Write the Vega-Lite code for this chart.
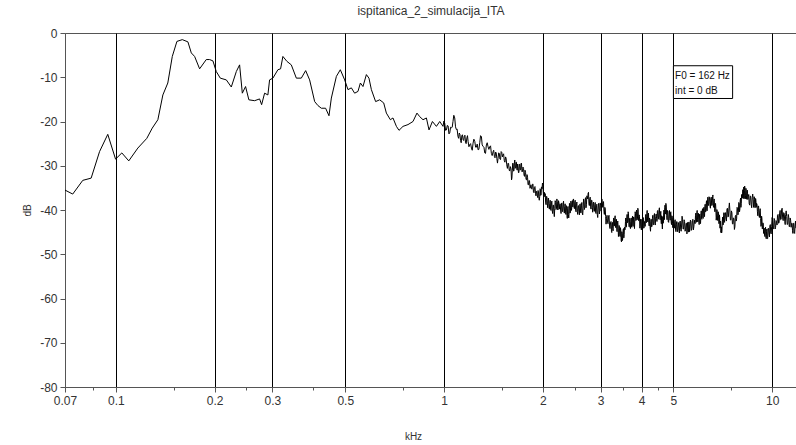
{
  "$schema": "https://vega.github.io/schema/vega-lite/v6.json",
  "width": 732,
  "height": 354,
  "autosize": {"type": "none"},
  "padding": {"left": 65, "top": 33, "right": 0, "bottom": 58},
  "background": "white",
  "config": {"view": {"stroke": "#555", "strokeWidth": 1}, "font": "Liberation Sans"},
  "title": {"text": "ispitanica_2_simulacija_ITA", "fontSize": 12, "fontWeight": "normal", "color": "#333", "anchor": "middle", "offset": 9, "font": "Liberation Sans"},
  "layer": [
    {
      "data": {"values": [
        {"khz":0.0700,"db":-35.5},{"khz":0.0739,"db":-36.4},{"khz":0.0793,"db":-33.3},{"khz":0.0841,"db":-32.8},{"khz":0.0892,"db":-26.8},{"khz":0.0945,"db":-22.9},{"khz":0.0998,"db":-28.5},{"khz":0.1043,"db":-27.1},{"khz":0.1095,"db":-28.9},{"khz":0.1167,"db":-26.0},{"khz":0.1243,"db":-23.8},{"khz":0.1291,"db":-21.5},{"khz":0.1343,"db":-19.6},{"khz":0.1391,"db":-14.0},{"khz":0.1440,"db":-11.3},{"khz":0.1486,"db":-5.3},{"khz":0.1535,"db":-1.9},{"khz":0.1594,"db":-1.5},{"khz":0.1658,"db":-2.0},{"khz":0.1698,"db":-4.5},{"khz":0.1738,"db":-5.3},{"khz":0.1800,"db":-8.1},{"khz":0.1886,"db":-6.0},{"khz":0.1931,"db":-6.0},{"khz":0.1976,"db":-6.3},{"khz":0.2023,"db":-8.7},{"khz":0.2081,"db":-10.2},{"khz":0.2171,"db":-10.6},{"khz":0.2248,"db":-12.2},{"khz":0.2329,"db":-8.7},{"khz":0.2383,"db":-7.2},{"khz":0.2429,"db":-13.6},{"khz":0.2485,"db":-12.1},{"khz":0.2543,"db":-15.1},{"khz":0.2648,"db":-15.3},{"khz":0.2742,"db":-14.9},{"khz":0.2781,"db":-16.2},{"khz":0.2840,"db":-13.6},{"khz":0.2906,"db":-14.0},{"khz":0.2941,"db":-10.6},{"khz":0.3010,"db":-10.2},{"khz":0.3118,"db":-8.3},{"khz":0.3177,"db":-8.1},{"khz":0.3229,"db":-5.3},{"khz":0.3320,"db":-6.4},{"khz":0.3425,"db":-7.2},{"khz":0.3548,"db":-10.2},{"khz":0.3674,"db":-10.2},{"khz":0.3788,"db":-8.5},{"khz":0.3895,"db":-10.6},{"khz":0.4035,"db":-15.5},{"khz":0.4129,"db":-16.4},{"khz":0.4228,"db":-17.0},{"khz":0.4357,"db":-17.0},{"khz":0.4461,"db":-18.7},{"khz":0.4536,"db":-14.7},{"khz":0.4699,"db":-9.8},{"khz":0.4831,"db":-8.3},{"khz":0.4981,"db":-10.6},{"khz":0.5097,"db":-12.8},{"khz":0.5220,"db":-12.4},{"khz":0.5341,"db":-13.6},{"khz":0.5468,"db":-13.2},{"khz":0.5561,"db":-11.3},{"khz":0.5663,"db":-12.1},{"khz":0.5800,"db":-9.4},{"khz":0.5906,"db":-10.2},{"khz":0.6007,"db":-12.8},{"khz":0.6188,"db":-15.5},{"khz":0.6368,"db":-15.1},{"khz":0.6549,"db":-15.8},{"khz":0.6673,"db":-18.1},{"khz":0.6863,"db":-19.6},{"khz":0.6990,"db":-19.2},{"khz":0.7160,"db":-21.1},{"khz":0.7292,"db":-22.0},{"khz":0.7499,"db":-21.1},{"khz":0.7766,"db":-20.7},{"khz":0.8043,"db":-20.0},{"khz":0.8271,"db":-18.1},{"khz":0.8431,"db":-18.9},{"khz":0.8630,"db":-19.6},{"khz":0.8837,"db":-19.2},{"khz":0.9000,"db":-21.9},{"khz":0.9218,"db":-20.0},{"khz":0.9480,"db":-21.1},{"khz":0.9703,"db":-20.0},
        {"khz":0.9931,"db":-21.1},{"khz":0.999,"db":-19.9},{"khz":1.005,"db":-20.4},{"khz":1.011,"db":-22.0},{"khz":1.017,"db":-21.9},{"khz":1.023,"db":-20.9},{"khz":1.029,"db":-21.0},{"khz":1.035,"db":-22.8},{"khz":1.041,"db":-22.6},{"khz":1.047,"db":-21.3},{"khz":1.053,"db":-21.4},{"khz":1.059,"db":-21.3},{"khz":1.065,"db":-20.0},{"khz":1.071,"db":-18.6},{"khz":1.078,"db":-19.2},{"khz":1.084,"db":-21.2},{"khz":1.090,"db":-21.8},{"khz":1.096,"db":-21.7},{"khz":1.103,"db":-23.4},{"khz":1.108,"db":-23.8},{"khz":1.113,"db":-22.6},{"khz":1.118,"db":-22.9},{"khz":1.123,"db":-24.3},{"khz":1.128,"db":-24.8},{"khz":1.133,"db":-23.2},{"khz":1.138,"db":-23.0},{"khz":1.143,"db":-24.1},{"khz":1.148,"db":-24.3},{"khz":1.153,"db":-23.3},{"khz":1.158,"db":-23.1},{"khz":1.163,"db":-24.8},{"khz":1.168,"db":-25.0},{"khz":1.174,"db":-23.7},{"khz":1.179,"db":-23.2},{"khz":1.184,"db":-24.5},{"khz":1.191,"db":-25.7},{"khz":1.198,"db":-25.2},{"khz":1.205,"db":-25.0},{"khz":1.212,"db":-26.0},{"khz":1.219,"db":-26.5},{"khz":1.226,"db":-24.9},{"khz":1.233,"db":-24.0},{"khz":1.241,"db":-24.5},{"khz":1.248,"db":-25.8},{"khz":1.255,"db":-25.8},{"khz":1.262,"db":-25.1},{"khz":1.270,"db":-26.4},{"khz":1.277,"db":-26.3},{"khz":1.285,"db":-24.8},{"khz":1.292,"db":-23.2},{"khz":1.300,"db":-23.4},{"khz":1.307,"db":-25.3},{"khz":1.315,"db":-25.6},{"khz":1.323,"db":-25.8},{"khz":1.331,"db":-27.1},{"khz":1.338,"db":-27.2},{"khz":1.346,"db":-25.3},{"khz":1.354,"db":-24.8},{"khz":1.362,"db":-25.7},{"khz":1.370,"db":-26.3},{"khz":1.378,"db":-25.7},{"khz":1.386,"db":-25.5},{"khz":1.394,"db":-27.2},{"khz":1.402,"db":-27.7},{"khz":1.411,"db":-26.8},{"khz":1.417,"db":-26.5},{"khz":1.424,"db":-27.9},{"khz":1.430,"db":-28.2},{"khz":1.436,"db":-26.9},{"khz":1.442,"db":-27.1},{"khz":1.449,"db":-28.4},{"khz":1.455,"db":-29.4},{"khz":1.461,"db":-28.3},{"khz":1.467,"db":-27.1},{"khz":1.474,"db":-27.2},{"khz":1.480,"db":-28.5},{"khz":1.487,"db":-28.6},{"khz":1.493,"db":-26.8},{"khz":1.500,"db":-27.0},{"khz":1.506,"db":-28.0},{"khz":1.513,"db":-27.5},{"khz":1.519,"db":-27.3},{"khz":1.526,"db":-28.8},{"khz":1.533,"db":-29.2},{"khz":1.540,"db":-28.0},{"khz":1.546,"db":-28.3},{"khz":1.553,"db":-29.8},{"khz":1.560,"db":-30.6},{"khz":1.567,"db":-29.4},{"khz":1.573,"db":-29.5},{"khz":1.580,"db":-31.0},{"khz":1.586,"db":-31.2},{"khz":1.593,"db":-30.2},{"khz":1.600,"db":-30.7},{"khz":1.606,"db":-33.2},{"khz":1.610,"db":-32.8},{"khz":1.615,"db":-31.0},{"khz":1.619,"db":-29.4},{"khz":1.624,"db":-29.5},{"khz":1.628,"db":-31.2},{"khz":1.633,"db":-31.2},{"khz":1.638,"db":-29.4},{"khz":1.643,"db":-28.7},{"khz":1.647,"db":-30.6},{"khz":1.652,"db":-30.5},{"khz":1.657,"db":-29.2},{"khz":1.662,"db":-29.2},{"khz":1.666,"db":-30.7},{"khz":1.671,"db":-31.0},{"khz":1.676,"db":-29.6},{"khz":1.681,"db":-30.2},{"khz":1.686,"db":-31.6},{"khz":1.691,"db":-31.5},{"khz":1.696,"db":-29.7},{"khz":1.701,"db":-29.6},{"khz":1.706,"db":-31.0},{"khz":1.712,"db":-30.8},{"khz":1.717,"db":-29.5},{"khz":1.722,"db":-29.4},{"khz":1.728,"db":-31.4},{"khz":1.734,"db":-31.3},{"khz":1.740,"db":-30.3},{"khz":1.747,"db":-30.6},{"khz":1.753,"db":-32.1},{"khz":1.759,"db":-32.4},{"khz":1.765,"db":-31.0},{"khz":1.772,"db":-31.5},{"khz":1.778,"db":-33.1},{"khz":1.784,"db":-33.2},{"khz":1.790,"db":-32.0},{"khz":1.797,"db":-32.6},{"khz":1.803,"db":-34.3},{"khz":1.809,"db":-34.3},{"khz":1.815,"db":-33.3},{"khz":1.822,"db":-33.4},{"khz":1.828,"db":-35.1},{"khz":1.834,"db":-34.8},{"khz":1.840,"db":-34.3},{"khz":1.847,"db":-35.1},{"khz":1.853,"db":-35.3},{"khz":1.860,"db":-34.2},{"khz":1.866,"db":-34.1},{"khz":1.873,"db":-35.9},{"khz":1.880,"db":-36.1},{"khz":1.886,"db":-34.9},{"khz":1.893,"db":-34.7},{"khz":1.900,"db":-36.2},{"khz":1.906,"db":-36.8},{"khz":1.913,"db":-35.8},{"khz":1.918,"db":-35.7},{"khz":1.924,"db":-36.8},{"khz":1.930,"db":-37.2},{"khz":1.935,"db":-35.6},{"khz":1.940,"db":-35.8},{"khz":1.946,"db":-37.3},{"khz":1.951,"db":-37.8},{"khz":1.957,"db":-37.0},{"khz":1.962,"db":-35.2},{"khz":1.967,"db":-35.4},{"khz":1.971,"db":-36.7},{"khz":1.976,"db":-36.6},{"khz":1.981,"db":-34.8},{"khz":1.986,"db":-34.8},{"khz":1.990,"db":-35.2},{"khz":1.995,"db":-33.9},{"khz":2.000,"db":-34.2},{"khz":2.005,"db":-35.6},{"khz":2.010,"db":-37.0},{"khz":2.016,"db":-36.4},{"khz":2.022,"db":-36.0},
        {"khz":2.028,"db":-37.0},{"khz":2.034,"db":-36.3},{"khz":2.040,"db":-38.2},{"khz":2.046,"db":-38.8},{"khz":2.052,"db":-36.9},{"khz":2.058,"db":-37.0},{"khz":2.064,"db":-38.6},{"khz":2.070,"db":-39.5},{"khz":2.076,"db":-37.4},{"khz":2.082,"db":-37.3},{"khz":2.088,"db":-39.3},{"khz":2.094,"db":-39.8},{"khz":2.100,"db":-38.5},{"khz":2.106,"db":-37.8},{"khz":2.112,"db":-39.8},{"khz":2.118,"db":-40.1},{"khz":2.125,"db":-38.4},{"khz":2.131,"db":-38.0},{"khz":2.137,"db":-40.2},{"khz":2.143,"db":-40.8},{"khz":2.150,"db":-38.9},{"khz":2.156,"db":-38.9},{"khz":2.162,"db":-40.4},{"khz":2.168,"db":-41.5},{"khz":2.175,"db":-39.6},{"khz":2.181,"db":-37.9},{"khz":2.188,"db":-38.3},{"khz":2.194,"db":-39.9},{"khz":2.201,"db":-39.7},{"khz":2.207,"db":-37.5},{"khz":2.214,"db":-38.1},{"khz":2.220,"db":-40.0},{"khz":2.227,"db":-39.9},{"khz":2.233,"db":-37.9},{"khz":2.240,"db":-38.4},{"khz":2.246,"db":-39.8},{"khz":2.253,"db":-38.8},{"khz":2.259,"db":-38.6},{"khz":2.266,"db":-40.0},{"khz":2.273,"db":-40.8},{"khz":2.280,"db":-38.6},{"khz":2.286,"db":-38.4},{"khz":2.293,"db":-40.3},{"khz":2.299,"db":-40.4},{"khz":2.306,"db":-38.7},{"khz":2.313,"db":-38.0},{"khz":2.320,"db":-40.1},{"khz":2.326,"db":-40.7},{"khz":2.333,"db":-39.2},{"khz":2.339,"db":-38.6},{"khz":2.345,"db":-40.5},{"khz":2.351,"db":-41.0},{"khz":2.357,"db":-39.0},{"khz":2.363,"db":-39.3},{"khz":2.369,"db":-41.2},{"khz":2.375,"db":-41.9},{"khz":2.381,"db":-39.6},{"khz":2.387,"db":-39.2},{"khz":2.393,"db":-41.0},{"khz":2.399,"db":-41.8},{"khz":2.405,"db":-40.7},{"khz":2.411,"db":-38.5},{"khz":2.417,"db":-39.1},{"khz":2.422,"db":-40.7},{"khz":2.428,"db":-40.2},{"khz":2.434,"db":-38.0},{"khz":2.440,"db":-38.3},{"khz":2.445,"db":-40.1},{"khz":2.451,"db":-39.5},{"khz":2.457,"db":-37.9},{"khz":2.463,"db":-37.9},{"khz":2.468,"db":-39.3},{"khz":2.474,"db":-37.7},{"khz":2.481,"db":-37.5},{"khz":2.489,"db":-39.4},{"khz":2.496,"db":-39.7},{"khz":2.503,"db":-38.2},{"khz":2.510,"db":-37.8},{"khz":2.518,"db":-40.1},{"khz":2.525,"db":-40.4},{"khz":2.532,"db":-38.6},{"khz":2.540,"db":-38.2},{"khz":2.547,"db":-40.3},{"khz":2.554,"db":-41.0},{"khz":2.562,"db":-39.2},{"khz":2.569,"db":-39.0},{"khz":2.577,"db":-40.4},{"khz":2.585,"db":-41.1},{"khz":2.593,"db":-38.7},{"khz":2.600,"db":-38.6},{"khz":2.608,"db":-40.6},{"khz":2.615,"db":-40.7},{"khz":2.623,"db":-38.9},{"khz":2.630,"db":-38.3},{"khz":2.638,"db":-40.5},{"khz":2.646,"db":-41.1},{"khz":2.654,"db":-39.6},{"khz":2.662,"db":-37.5},{"khz":2.670,"db":-38.0},{"khz":2.677,"db":-39.9},{"khz":2.685,"db":-39.4},{"khz":2.693,"db":-37.5},{"khz":2.701,"db":-37.2},{"khz":2.708,"db":-39.5},{"khz":2.716,"db":-38.8},{"khz":2.724,"db":-36.8},{"khz":2.732,"db":-37.0},{"khz":2.740,"db":-37.5},{"khz":2.748,"db":-36.2},{"khz":2.756,"db":-36.0},{"khz":2.764,"db":-38.6},{"khz":2.772,"db":-39.0},{"khz":2.781,"db":-37.4},{"khz":2.789,"db":-37.1},{"khz":2.797,"db":-39.3},{"khz":2.805,"db":-39.8},{"khz":2.814,"db":-37.8},{"khz":2.822,"db":-37.8},{"khz":2.830,"db":-39.4},{"khz":2.838,"db":-40.5},{"khz":2.847,"db":-38.5},{"khz":2.855,"db":-38.2},{"khz":2.864,"db":-40.1},{"khz":2.872,"db":-40.3},{"khz":2.881,"db":-38.7},{"khz":2.889,"db":-38.3},{"khz":2.897,"db":-40.6},{"khz":2.905,"db":-40.8},{"khz":2.914,"db":-39.0},{"khz":2.922,"db":-38.7},{"khz":2.931,"db":-41.0},{"khz":2.940,"db":-41.7},{"khz":2.948,"db":-40.0},{"khz":2.956,"db":-38.5},{"khz":2.965,"db":-38.6},{"khz":2.974,"db":-40.9},{"khz":2.983,"db":-40.2},{"khz":2.991,"db":-38.4},{"khz":3.000,"db":-38.9},{"khz":3.009,"db":-40.2},{"khz":3.018,"db":-39.7},{"khz":3.026,"db":-37.5},{"khz":3.035,"db":-38.2},{"khz":3.044,"db":-39.4},
        {"khz":3.053,"db":-38.5},{"khz":3.062,"db":-38.1},{"khz":3.071,"db":-40.3},{"khz":3.080,"db":-41.0},{"khz":3.090,"db":-39.4},{"khz":3.099,"db":-39.6},{"khz":3.108,"db":-41.5},{"khz":3.117,"db":-43.2},{"khz":3.127,"db":-41.9},{"khz":3.138,"db":-41.2},{"khz":3.149,"db":-42.8},{"khz":3.160,"db":-43.1},{"khz":3.171,"db":-41.6},{"khz":3.182,"db":-41.2},{"khz":3.194,"db":-43.6},{"khz":3.205,"db":-44.2},{"khz":3.216,"db":-42.9},{"khz":3.227,"db":-42.6},{"khz":3.238,"db":-44.9},{"khz":3.245,"db":-45.1},{"khz":3.253,"db":-43.0},{"khz":3.260,"db":-42.8},{"khz":3.268,"db":-44.2},{"khz":3.275,"db":-44.7},{"khz":3.283,"db":-42.3},{"khz":3.290,"db":-41.8},{"khz":3.298,"db":-43.6},{"khz":3.306,"db":-43.6},{"khz":3.314,"db":-41.9},{"khz":3.322,"db":-41.3},{"khz":3.330,"db":-43.6},{"khz":3.337,"db":-44.0},{"khz":3.345,"db":-42.4},{"khz":3.353,"db":-42.1},{"khz":3.361,"db":-44.5},{"khz":3.368,"db":-44.9},{"khz":3.376,"db":-42.9},{"khz":3.384,"db":-42.5},{"khz":3.392,"db":-43.8},{"khz":3.400,"db":-46.0},{"khz":3.408,"db":-45.2},{"khz":3.416,"db":-43.5},{"khz":3.425,"db":-44.1},{"khz":3.433,"db":-45.9},{"khz":3.441,"db":-46.0},{"khz":3.449,"db":-44.0},{"khz":3.458,"db":-44.8},{"khz":3.466,"db":-47.0},{"khz":3.474,"db":-47.2},{"khz":3.482,"db":-44.9},{"khz":3.490,"db":-45.3},{"khz":3.498,"db":-46.9},{"khz":3.506,"db":-46.2},{"khz":3.514,"db":-44.4},{"khz":3.523,"db":-44.2},{"khz":3.531,"db":-46.3},{"khz":3.539,"db":-45.5},{"khz":3.547,"db":-43.9},{"khz":3.555,"db":-44.5},{"khz":3.563,"db":-44.4},{"khz":3.572,"db":-42.6},{"khz":3.580,"db":-41.8},{"khz":3.589,"db":-43.9},{"khz":3.597,"db":-43.8},{"khz":3.605,"db":-41.8},{"khz":3.613,"db":-41.0},{"khz":3.622,"db":-42.9},{"khz":3.630,"db":-42.8},{"khz":3.639,"db":-40.4},{"khz":3.648,"db":-40.8},{"khz":3.657,"db":-42.8},{"khz":3.665,"db":-43.8},{"khz":3.674,"db":-41.9},{"khz":3.683,"db":-41.9},{"khz":3.692,"db":-44.1},{"khz":3.700,"db":-44.2},{"khz":3.709,"db":-42.6},{"khz":3.718,"db":-41.8},{"khz":3.727,"db":-43.8},{"khz":3.735,"db":-43.9},{"khz":3.744,"db":-42.0},{"khz":3.753,"db":-41.4},{"khz":3.762,"db":-43.5},{"khz":3.770,"db":-43.7},{"khz":3.779,"db":-41.6},{"khz":3.788,"db":-41.6},{"khz":3.797,"db":-43.2},{"khz":3.805,"db":-44.2},{"khz":3.814,"db":-42.2},{"khz":3.823,"db":-40.4},{"khz":3.832,"db":-40.8},{"khz":3.841,"db":-42.4},{"khz":3.850,"db":-42.3},{"khz":3.859,"db":-40.0},{"khz":3.868,"db":-40.5},{"khz":3.877,"db":-42.2},{"khz":3.886,"db":-41.9},{"khz":3.895,"db":-39.6},{"khz":3.904,"db":-40.0},{"khz":3.913,"db":-42.4},{"khz":3.923,"db":-42.4},{"khz":3.932,"db":-41.1},{"khz":3.942,"db":-41.5},{"khz":3.951,"db":-44.1},{"khz":3.960,"db":-43.8},{"khz":3.969,"db":-42.1},{"khz":3.979,"db":-42.6},{"khz":3.988,"db":-44.4},{"khz":3.998,"db":-44.5},{"khz":4.007,"db":-42.1},{"khz":4.017,"db":-42.6},{"khz":4.026,"db":-44.3},{"khz":4.036,"db":-44.0},{"khz":4.045,"db":-41.7},{"khz":4.054,"db":-42.1},{"khz":4.063,"db":-44.1},{"khz":4.073,"db":-43.8},{"khz":4.082,"db":-42.6},{"khz":4.092,"db":-43.0},{"khz":4.101,"db":-43.7},{"khz":4.111,"db":-41.4},{"khz":4.120,"db":-41.0},{"khz":4.130,"db":-42.9},{"khz":4.140,"db":-42.7},{"khz":4.150,"db":-40.8},{"khz":4.159,"db":-40.1},{"khz":4.169,"db":-42.3},{"khz":4.178,"db":-42.7},{"khz":4.188,"db":-41.1},{"khz":4.198,"db":-40.7},{"khz":4.208,"db":-43.0},{"khz":4.218,"db":-43.6},{"khz":4.228,"db":-41.8},{"khz":4.238,"db":-42.1},{"khz":4.248,"db":-44.1},{"khz":4.258,"db":-44.8},{"khz":4.269,"db":-42.6},{"khz":4.279,"db":-42.1},{"khz":4.289,"db":-43.8},{"khz":4.302,"db":-43.7},{"khz":4.315,"db":-41.9},{"khz":4.327,"db":-41.2},{"khz":4.340,"db":-43.4},{"khz":4.353,"db":-43.3},{"khz":4.366,"db":-41.2},{"khz":4.378,"db":-40.8},{"khz":4.391,"db":-43.0},{"khz":4.404,"db":-43.4},{"khz":4.417,"db":-41.5},{"khz":4.430,"db":-40.9},{"khz":4.443,"db":-41.9},{"khz":4.455,"db":-42.6},{"khz":4.468,"db":-40.3},{"khz":4.480,"db":-40.1},{"khz":4.493,"db":-42.1},{"khz":4.505,"db":-42.0},{"khz":4.518,"db":-40.2},{"khz":4.531,"db":-39.5},{"khz":4.544,"db":-41.6},{"khz":4.556,"db":-42.2},{"khz":4.569,"db":-40.7},{"khz":4.577,"db":-40.3},{"khz":4.586,"db":-42.5},{"khz":4.594,"db":-43.1},{"khz":4.603,"db":-41.3},{"khz":4.611,"db":-41.5},{"khz":4.620,"db":-43.4},{"khz":4.628,"db":-44.3},{"khz":4.636,"db":-42.1},{"khz":4.644,"db":-41.5},{"khz":4.653,"db":-43.0},{"khz":4.662,"db":-42.7},{"khz":4.671,"db":-40.6},{"khz":4.680,"db":-40.0},{"khz":4.689,"db":-42.2},{"khz":4.697,"db":-41.8},{"khz":4.706,"db":-39.4},{"khz":4.715,"db":-38.9},{"khz":4.724,"db":-40.9},{"khz":4.733,"db":-40.9},{"khz":4.742,"db":-38.5},{"khz":4.755,"db":-39.1},{"khz":4.769,"db":-41.2},{"khz":4.782,"db":-42.2},{"khz":4.796,"db":-40.1},{"khz":4.809,"db":-40.3},{"khz":4.823,"db":-42.7},{"khz":4.836,"db":-42.8},{"khz":4.850,"db":-41.0},{"khz":4.863,"db":-40.1},{"khz":4.877,"db":-41.9},{"khz":4.888,"db":-42.3},{"khz":4.900,"db":-40.6},{"khz":4.911,"db":-40.4},{"khz":4.923,"db":-42.8},{"khz":4.934,"db":-43.3},{"khz":4.946,"db":-41.3},{"khz":4.957,"db":-41.4},{"khz":4.969,"db":-43.0},{"khz":4.980,"db":-44.0},
        {"khz":4.992,"db":-41.9},{"khz":5.006,"db":-41.8},{"khz":5.020,"db":-43.8},{"khz":5.034,"db":-44.1},{"khz":5.049,"db":-42.5},{"khz":5.063,"db":-42.2},{"khz":5.077,"db":-44.6},{"khz":5.091,"db":-44.9},{"khz":5.106,"db":-43.2},{"khz":5.120,"db":-42.6},{"khz":5.134,"db":-44.5},{"khz":5.150,"db":-44.9},{"khz":5.166,"db":-42.8},{"khz":5.182,"db":-42.9},{"khz":5.198,"db":-44.6},{"khz":5.214,"db":-45.2},{"khz":5.230,"db":-42.7},{"khz":5.246,"db":-42.5},{"khz":5.263,"db":-44.4},{"khz":5.279,"db":-44.8},{"khz":5.295,"db":-43.4},{"khz":5.313,"db":-41.4},{"khz":5.332,"db":-42.2},{"khz":5.351,"db":-44.3},{"khz":5.370,"db":-44.3},{"khz":5.389,"db":-42.2},{"khz":5.408,"db":-42.6},{"khz":5.426,"db":-44.8},{"khz":5.445,"db":-44.5},{"khz":5.464,"db":-43.0},{"khz":5.483,"db":-43.0},{"khz":5.496,"db":-45.4},{"khz":5.509,"db":-44.8},{"khz":5.522,"db":-42.8},{"khz":5.535,"db":-42.9},{"khz":5.547,"db":-44.9},{"khz":5.560,"db":-45.0},{"khz":5.573,"db":-42.7},{"khz":5.586,"db":-43.2},{"khz":5.599,"db":-44.9},{"khz":5.612,"db":-44.5},{"khz":5.632,"db":-42.3},{"khz":5.652,"db":-42.6},{"khz":5.672,"db":-44.6},{"khz":5.692,"db":-44.2},{"khz":5.711,"db":-42.4},{"khz":5.731,"db":-42.1},{"khz":5.751,"db":-44.5},{"khz":5.771,"db":-43.8},{"khz":5.791,"db":-42.3},{"khz":5.811,"db":-43.0},{"khz":5.824,"db":-43.1},{"khz":5.838,"db":-41.3},{"khz":5.852,"db":-40.7},{"khz":5.866,"db":-42.8},{"khz":5.879,"db":-42.7},{"khz":5.893,"db":-40.6},{"khz":5.907,"db":-40.1},{"khz":5.921,"db":-42.2},{"khz":5.934,"db":-42.7},{"khz":5.948,"db":-40.7},{"khz":5.962,"db":-40.9},{"khz":5.977,"db":-42.6},{"khz":5.991,"db":-43.3},{"khz":6.006,"db":-41.0},{"khz":6.020,"db":-40.9},{"khz":6.034,"db":-43.0},{"khz":6.048,"db":-43.1},{"khz":6.063,"db":-41.3},{"khz":6.077,"db":-40.2},{"khz":6.092,"db":-41.9},{"khz":6.106,"db":-42.1},{"khz":6.120,"db":-40.2},{"khz":6.134,"db":-39.7},{"khz":6.149,"db":-41.7},{"khz":6.163,"db":-41.9},{"khz":6.177,"db":-39.6},{"khz":6.191,"db":-39.4},{"khz":6.206,"db":-40.8},{"khz":6.220,"db":-41.5},{"khz":6.234,"db":-39.2},{"khz":6.248,"db":-38.7},{"khz":6.263,"db":-40.4},{"khz":6.278,"db":-40.4},{"khz":6.293,"db":-38.6},{"khz":6.307,"db":-37.9},{"khz":6.322,"db":-40.1},{"khz":6.337,"db":-40.2},{"khz":6.352,"db":-38.2},{"khz":6.366,"db":-37.1},{"khz":6.381,"db":-38.5},{"khz":6.401,"db":-39.0},{"khz":6.421,"db":-37.0},{"khz":6.441,"db":-37.1},{"khz":6.461,"db":-38.8},{"khz":6.481,"db":-39.6},{"khz":6.501,"db":-37.4},{"khz":6.521,"db":-37.1},{"khz":6.541,"db":-39.0},{"khz":6.561,"db":-38.9},{"khz":6.581,"db":-37.0},{"khz":6.596,"db":-36.6},{"khz":6.612,"db":-38.9},{"khz":6.627,"db":-39.4},{"khz":6.643,"db":-37.8},{"khz":6.658,"db":-37.5},{"khz":6.674,"db":-39.7},{"khz":6.689,"db":-40.4},{"khz":6.705,"db":-38.6},{"khz":6.720,"db":-38.5},{"khz":6.736,"db":-40.0},{"khz":6.752,"db":-42.3},{"khz":6.768,"db":-41.6},{"khz":6.783,"db":-39.9},{"khz":6.799,"db":-40.3},{"khz":6.815,"db":-42.3},{"khz":6.831,"db":-42.4},{"khz":6.846,"db":-40.4},{"khz":6.862,"db":-41.2},{"khz":6.878,"db":-43.1},{"khz":6.894,"db":-43.0},{"khz":6.906,"db":-41.1},{"khz":6.918,"db":-41.7},{"khz":6.929,"db":-44.1},{"khz":6.941,"db":-44.0},{"khz":6.953,"db":-42.5},{"khz":6.965,"db":-42.6},{"khz":6.976,"db":-45.1},{"khz":6.988,"db":-44.6},{"khz":7.000,"db":-43.8},{"khz":7.012,"db":-45.2},{"khz":7.028,"db":-44.8},{"khz":7.045,"db":-42.6},{"khz":7.061,"db":-41.6},{"khz":7.078,"db":-43.4},{"khz":7.094,"db":-43.3},{"khz":7.111,"db":-41.2},{"khz":7.127,"db":-40.6},{"khz":7.144,"db":-42.5},{"khz":7.160,"db":-42.8},{"khz":7.177,"db":-40.7},{"khz":7.202,"db":-40.6},{"khz":7.228,"db":-42.1},{"khz":7.253,"db":-42.5},{"khz":7.279,"db":-39.8},{"khz":7.304,"db":-39.6},{"khz":7.330,"db":-41.6},{"khz":7.355,"db":-41.5},{"khz":7.380,"db":-39.6},{"khz":7.405,"db":-38.4},{"khz":7.431,"db":-40.0},{"khz":7.457,"db":-42.2},{"khz":7.484,"db":-42.3},{"khz":7.510,"db":-40.2},{"khz":7.537,"db":-40.6},{"khz":7.564,"db":-43.1},{"khz":7.591,"db":-43.2},{"khz":7.617,"db":-41.8},{"khz":7.644,"db":-41.9},{"khz":7.670,"db":-44.4},{"khz":7.697,"db":-43.8},{"khz":7.720,"db":-41.4},{"khz":7.744,"db":-41.2},{"khz":7.767,"db":-42.5},{"khz":7.791,"db":-42.0},{"khz":7.815,"db":-39.4},{"khz":7.839,"db":-39.6},{"khz":7.862,"db":-41.1},{"khz":7.886,"db":-40.6},{"khz":7.909,"db":-38.3},{"khz":7.933,"db":-38.5},{"khz":7.952,"db":-40.4},{"khz":7.971,"db":-39.8},{"khz":7.990,"db":-37.8},{"khz":8.010,"db":-37.3},{"khz":8.029,"db":-39.4},{"khz":8.048,"db":-38.5},{"khz":8.067,"db":-36.5},{"khz":8.087,"db":-36.6},{"khz":8.106,"db":-37.3},{"khz":8.125,"db":-36.2},{"khz":8.138,"db":-35.4},{"khz":8.151,"db":-37.4},{"khz":8.164,"db":-37.4},{"khz":8.178,"db":-35.4},{"khz":8.191,"db":-34.8},{"khz":8.204,"db":-36.8},{"khz":8.217,"db":-37.4},{"khz":8.231,"db":-35.6},{"khz":8.244,"db":-34.6},{"khz":8.257,"db":-35.1},{"khz":8.276,"db":-37.5},{"khz":8.296,"db":-36.8},{"khz":8.315,"db":-35.1},{"khz":8.334,"db":-35.6},{"khz":8.353,"db":-37.5},{"khz":8.373,"db":-37.6},{"khz":8.392,"db":-35.5},{"khz":8.411,"db":-36.2},{"khz":8.430,"db":-37.6},{"khz":8.450,"db":-37.0},{"khz":8.480,"db":-36.5},{"khz":8.510,"db":-38.6},{"khz":8.540,"db":-38.9},{"khz":8.571,"db":-36.8},{"khz":8.601,"db":-37.0},{"khz":8.631,"db":-38.8},{"khz":8.661,"db":-39.5},{"khz":8.692,"db":-37.2},{"khz":8.722,"db":-36.4},{"khz":8.752,"db":-37.7},{"khz":8.773,"db":-39.4},{"khz":8.794,"db":-39.2},{"khz":8.815,"db":-37.0},{"khz":8.836,"db":-37.6},{"khz":8.857,"db":-39.5},{"khz":8.879,"db":-39.4},{"khz":8.900,"db":-37.4},{"khz":8.921,"db":-37.9},{"khz":8.942,"db":-39.4},{"khz":8.963,"db":-38.5},{"khz":8.988,"db":-38.7},{"khz":9.014,"db":-40.4},{"khz":9.040,"db":-41.3},{"khz":9.065,"db":-39.1},{"khz":9.091,"db":-39.1},{"khz":9.117,"db":-41.3},{"khz":9.142,"db":-41.7},{"khz":9.168,"db":-40.2},{"khz":9.193,"db":-39.7},{"khz":9.219,"db":-41.9},{"khz":9.240,"db":-43.7},{"khz":9.262,"db":-43.4},{"khz":9.283,"db":-41.4},{"khz":9.305,"db":-42.0},{"khz":9.326,"db":-44.3},{"khz":9.348,"db":-44.2},{"khz":9.369,"db":-42.9},{"khz":9.391,"db":-43.1},{"khz":9.412,"db":-45.3},{"khz":9.434,"db":-44.5},{"khz":9.456,"db":-44.1},{"khz":9.478,"db":-45.8},{"khz":9.500,"db":-46.0},{"khz":9.523,"db":-44.3},{"khz":9.545,"db":-43.9},{"khz":9.567,"db":-46.2},{"khz":9.590,"db":-46.5},{"khz":9.612,"db":-44.8},{"khz":9.634,"db":-44.3},{"khz":9.656,"db":-46.4},{"khz":9.686,"db":-46.5},{"khz":9.717,"db":-44.2},{"khz":9.747,"db":-44.1},{"khz":9.777,"db":-45.6},{"khz":9.808,"db":-46.1},{"khz":9.838,"db":-43.6},{"khz":9.868,"db":-43.3},{"khz":9.898,"db":-45.2},{"khz":9.928,"db":-45.4},{"khz":9.959,"db":-43.8},{"khz":9.994,"db":-41.7},{"khz":10.03,"db":-42.4},{"khz":10.065,"db":-44.3},{"khz":10.10,"db":-44.2},{"khz":10.135,"db":-41.9},{"khz":10.17,"db":-42.3},{"khz":10.205,"db":-44.3},{"khz":10.24,"db":-43.9},{"khz":10.275,"db":-42.4},{"khz":10.31,"db":-42.6},{"khz":10.345,"db":-43.4},{"khz":10.38,"db":-41.2},{"khz":10.42,"db":-41.0},{"khz":10.46,"db":-43.0},{"khz":10.495,"db":-42.8},{"khz":10.53,"db":-40.9},{"khz":10.57,"db":-40.1},{"khz":10.61,"db":-42.2},{"khz":10.645,"db":-42.1},{"khz":10.68,"db":-40.0},{"khz":10.72,"db":-39.6},{"khz":10.76,"db":-41.8},{"khz":10.80,"db":-42.4},{"khz":10.84,"db":-40.6},{"khz":10.88,"db":-40.8},{"khz":10.92,"db":-42.6},{"khz":10.955,"db":-43.3},{"khz":10.99,"db":-41.0},{"khz":11.03,"db":-40.2},{"khz":11.07,"db":-41.5},{"khz":11.11,"db":-43.3},{"khz":11.15,"db":-43.2},{"khz":11.19,"db":-41.0},{"khz":11.23,"db":-41.6},{"khz":11.265,"db":-43.7},{"khz":11.30,"db":-43.8},{"khz":11.34,"db":-41.8},{"khz":11.38,"db":-42.3},{"khz":11.42,"db":-43.9},{"khz":11.46,"db":-43.0},{"khz":11.495,"db":-43.0},{"khz":11.53,"db":-44.6},{"khz":11.565,"db":-45.3},{"khz":11.60,"db":-43.0},{"khz":11.635,"db":-43.0},{"khz":11.67,"db":-45.2},{"khz":11.705,"db":-45.3},{"khz":11.74,"db":-43.6},{"khz":11.775,"db":-42.5},{"khz":11.81,"db":-44.1}
      ]},
      "mark": {"type": "line", "color": "#000", "strokeWidth": 1, "clip": true},
      "encoding": {
        "x": {
          "field": "khz", "type": "quantitative",
          "scale": {"type": "log", "domain": [0.07, 11.9], "nice": false},
          "axis": {
            "title": "kHz",
            "values": [0.07,0.085,0.1,0.15,0.2,0.25,0.3,0.4,0.5,0.75,1,1.5,2,2.5,3,3.5,4,4.5,5,7.5,10],
            "labelExpr": "indexof([0.085,0.15,0.25,0.4,0.75,1.5,2.5,3.5,4.5,7.5], datum.value) >= 0 ? '' : '' + datum.value",
            "tickSize": {"condition": {"test": "indexof([0.085,0.15,0.25,0.4,0.75,1.5,2.5,3.5,4.5,7.5], datum.value) >= 0", "value": 3}, "value": 5},
            "grid": true,
            "gridColor": "#000",
            "gridWidth": 1,
            "gridOpacity": {"condition": {"test": "indexof([0.07,0.085,0.15,0.25,0.4,0.75,1.5,2.5,3.5,4.5,7.5], datum.value) >= 0", "value": 0}, "value": 1},
            "domainColor": "#555",
            "tickColor": "#555",
            "labelFont": "Liberation Sans",
            "labelFontSize": 12,
            "labelColor": "#333",
            "labelPadding": 3,
            "labelFlush": false,
            "labelOverlap": false,
            "titleFont": "Liberation Sans",
            "titleFontSize": 10,
            "titleFontWeight": "normal",
            "titleColor": "#333",
            "titleX": 348,
            "titleY": 44,
            "titleAnchor": null,
            "titleAlign": "center",
            "titleBaseline": "top"
          }
        },
        "y": {
          "field": "db", "type": "quantitative",
          "scale": {"domain": [-80, 0], "nice": false, "zero": false},
          "axis": {
            "title": "dB",
            "values": [-80,-75,-70,-65,-60,-55,-50,-45,-40,-35,-30,-25,-20,-15,-10,-5,0],
            "labelExpr": "datum.value % 10 != 0 ? '' : '' + datum.value",
            "tickSize": {"condition": {"test": "datum.value % 10 != 0", "value": 3}, "value": 5},
            "grid": false,
            "domainColor": "#555",
            "tickColor": "#555",
            "labelFont": "Liberation Sans",
            "labelFontSize": 12,
            "labelColor": "#333",
            "labelPadding": 3,
            "labelFlush": false,
            "labelOverlap": false,
            "titleFont": "Liberation Sans",
            "titleFontSize": 10,
            "titleFontWeight": "normal",
            "titleColor": "#333",
            "titleX": -38,
            "titleY": 177,
            "titleAngle": 270,
            "titleAnchor": null,
            "titleAlign": "center",
            "titleBaseline": "middle"
          }
        }
      }
    },
    {
      "data": {"values": [{}]},
      "mark": {"type": "rect", "fill": "white", "stroke": "#000", "strokeWidth": 1},
      "encoding": {
        "x": {"datum": 5.0, "type": "quantitative"},
        "x2": {"datum": 7.575},
        "y": {"datum": -7.4, "type": "quantitative"},
        "y2": {"datum": -14.8}
      }
    },
    {
      "data": {"values": [{}]},
      "mark": {"type": "text", "text": "F0 = 162 Hz", "align": "left", "baseline": "middle", "fontSize": 10, "font": "Liberation Sans", "color": "#111"},
      "encoding": {
        "x": {"datum": 5.06, "type": "quantitative"},
        "y": {"datum": -9.75, "type": "quantitative"}
      }
    },
    {
      "data": {"values": [{}]},
      "mark": {"type": "text", "text": "int = 0 dB", "align": "left", "baseline": "middle", "fontSize": 10, "font": "Liberation Sans", "color": "#111"},
      "encoding": {
        "x": {"datum": 5.06, "type": "quantitative"},
        "y": {"datum": -13.2, "type": "quantitative"}
      }
    }
  ]
}
